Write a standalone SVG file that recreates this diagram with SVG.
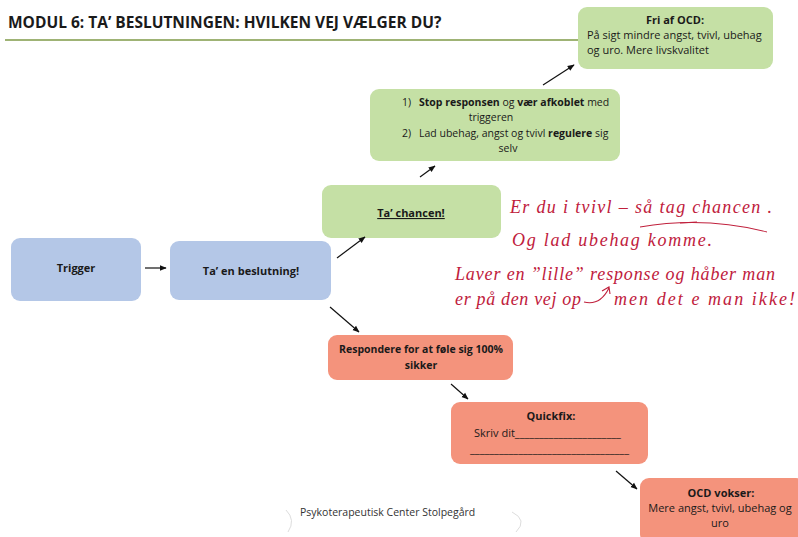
<svg xmlns="http://www.w3.org/2000/svg" width="798" height="537" viewBox="0 0 798 537">
<defs>
<marker id="ah" viewBox="0 0 10 10" refX="9" refY="5" markerWidth="7" markerHeight="7" orient="auto" markerUnits="userSpaceOnUse">
<path d="M0,1 L10,5 L0,9 z" fill="#111"/>
</marker>
</defs>
<style>
text{font-family:"Open Sans","Liberation Sans",sans-serif;fill:#1a1a1a;}
.t{font-size:11px;}
.s{font-size:10.5px;}
.b{font-weight:bold;}
.c{text-anchor:middle;}
.green{fill:#c5e0a5;}
.blue{fill:#b4c7e7;}
.red{fill:#f4937c;}
.conn line{stroke:#111;stroke-width:1.2;marker-end:url(#ah);}
.hw{font-family:"Liberation Serif",serif;font-style:italic;font-size:18px;fill:#c0203c;}
.hl{fill:none;stroke:#c0203c;stroke-width:1.1;}
</style>
<rect width="798" height="537" fill="#ffffff"/>

<g id="title">
<text x="8" y="28" class="b" style="font-size:15.5px">MODUL 6: TA’ BESLUTNINGEN: HVILKEN VEJ VÆLGER DU?</text>
<line x1="5" y1="40" x2="580" y2="40" stroke="#7f9a47" stroke-width="1.5"/>
</g>

<g id="fri">
<rect x="578" y="7" width="195" height="62" rx="9" class="green"/>
<text x="675" y="24" class="t b c">Fri af OCD:</text>
<text x="587" y="39" class="t">På sigt mindre angst, tvivl, ubehag</text>
<text x="587" y="54" class="t">og uro.  Mere livskvalitet</text>
</g>

<g id="stop">
<rect x="370" y="89" width="250" height="72" rx="9" class="green"/>
<text x="402" y="106" class="s">1)</text>
<text x="419" y="106" class="s"><tspan class="b">Stop responsen</tspan> og <tspan class="b">vær afkoblet</tspan> med</text>
<text x="491" y="121" class="s c">triggeren</text>
<text x="402" y="137" class="s">2)</text>
<text x="419" y="137" class="s">Lad ubehag, angst og tvivl <tspan class="b">regulere</tspan> sig</text>
<text x="508" y="152" class="s c">selv</text>
</g>

<g id="chancen">
<rect x="322" y="185" width="179" height="53" rx="9" class="green"/>
<text x="411" y="217" class="t b c" text-decoration="underline">Ta’ chancen!</text>
</g>

<g id="trigger">
<rect x="11" y="238" width="130" height="63" rx="9" class="blue"/>
<text x="76" y="272" class="t b c">Trigger</text>
</g>

<g id="beslutning">
<rect x="170" y="241" width="161" height="59" rx="9" class="blue"/>
<text x="251" y="275" class="t b c">Ta’ en beslutning!</text>
</g>

<g id="respondere">
<rect x="328" y="335" width="185" height="45" rx="9" class="red"/>
<text x="421" y="353" class="s b c">Respondere for at føle sig 100%</text>
<text x="421" y="369" class="s b c">sikker</text>
</g>

<g id="quickfix">
<rect x="451" y="402" width="197" height="62" rx="9" class="red"/>
<text x="551" y="420" class="t b c">Quickfix:</text>
<text x="474" y="437" class="t">Skriv dit______________________</text>
<text x="470" y="453" class="t">_________________________________</text>
</g>

<g id="ocdvokser">
<rect x="640" y="478" width="165" height="65" rx="9" class="red"/>
<text x="721" y="497" class="t b c">OCD vokser:</text>
<text x="720" y="512" class="t c">Mere angst, tvivl, ubehag og</text>
<text x="720" y="527" class="t c">uro</text>
</g>

<g id="connectors" class="conn">
<line x1="145" y1="268" x2="166" y2="268"/>
<line x1="337" y1="258" x2="365" y2="237"/>
<line x1="420" y1="177" x2="435" y2="166"/>
<line x1="543" y1="85" x2="574" y2="65"/>
<line x1="330" y1="307" x2="359" y2="332"/>
<line x1="451" y1="384" x2="468" y2="399"/>
<line x1="616" y1="471" x2="637" y2="489"/>
</g>

<g id="handwriting">
<text x="510" y="213" class="hw" textLength="262">Er du i tvivl – så tag chancen .</text>
<path d="M640,227 Q705,216 767,232" class="hl"/>
<path d="M680,223 L697,222" class="hl"/>
<text x="512" y="246" class="hw" textLength="200">Og lad ubehag komme.</text>
<text x="455" y="280" class="hw" textLength="320">Laver en ”lille” response og håber man</text>
<text x="455" y="305" class="hw" textLength="126">er på den vej op</text>
<path d="M584,302 Q600,306 609,288 M602,291 L609,287 L610,294" class="hl"/>
<text x="614" y="305" class="hw" textLength="181">men det e man ikke!</text>
</g>

<g id="footer">
<text x="300" y="516" style="font-size:10.5px;fill:#333">Psykoterapeutisk Center Stolpegård</text>
<path d="M286,510 Q296,520 288,532" fill="none" stroke="#ddd" stroke-width="1"/>
<path d="M512,512 Q528,520 516,532" fill="none" stroke="#ddd" stroke-width="1"/>
</g>
</svg>
